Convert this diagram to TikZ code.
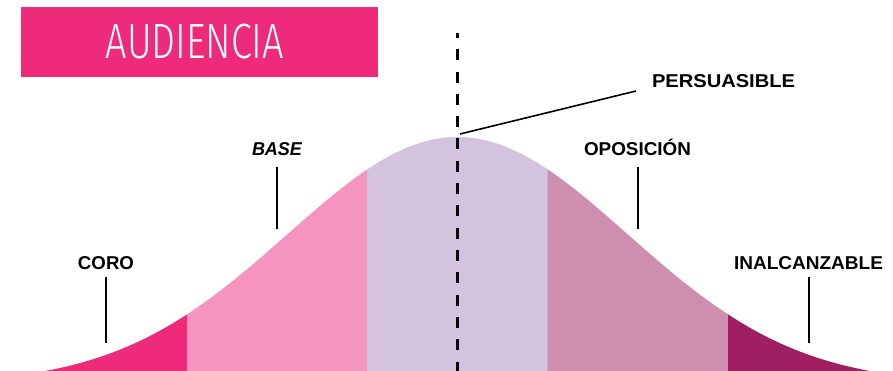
\documentclass[tikz,border=0pt]{standalone}
\usepackage{fontspec}
\setmainfont{Liberation Sans}
\newfontfamily\titlefont{Fira Sans Light}
\usepackage{graphicx}
\definecolor{coro}{HTML}{EE2A7B}
\definecolor{basec}{HTML}{F595BF}
\definecolor{pers}{HTML}{D3C3DF}
\definecolor{opos}{HTML}{CE8EAF}
\definecolor{inal}{HTML}{A01E62}
\newcommand\lblx[2]{\resizebox{#1}{\height}{\fontsize{18.6pt}{20pt}\selectfont\bfseries #2}}
\begin{document}
\begin{tikzpicture}[x=1pt,y=-1pt,
  declare function={bell(\t)=371-234*(exp(-((\t-457.5)/170)*((\t-457.5)/170)/2)-0.0527)/0.9473;},
  labeltext/.style={inner sep=0pt,anchor=base,text=black},
  leader/.style={draw=black,line width=1.6pt}]
\useasboundingbox (0,0) rectangle (893,371);
% bands
\fill[coro] plot[domain=45:187.5,samples=60] (\x,{bell(\x)}) -- (187.5,371) -- (45,371) -- cycle;
\fill[basec] plot[domain=187:367.5,samples=60] (\x,{bell(\x)}) -- (367.5,371) -- (187,371) -- cycle;
\fill[pers] plot[domain=367:548,samples=60] (\x,{bell(\x)}) -- (548,371) -- (367,371) -- cycle;
\fill[opos] plot[domain=547.5:728.5,samples=60] (\x,{bell(\x)}) -- (728.5,371) -- (547.5,371) -- cycle;
\fill[inal] plot[domain=728:870,samples=60] (\x,{bell(\x)}) -- (870,371) -- (728,371) -- cycle;
% title
\node[fill=coro,minimum width=357pt,minimum height=70pt,inner sep=0pt,anchor=north west] (titlebox) at (21,7) {};
\node[inner sep=0pt,anchor=base,text=white] (title) at (195,59)
  {\resizebox{178pt}{34.5pt}{\fontsize{49pt}{50pt}\titlefont AUDIENCIA}};
% center dashed line
\coordinate (dtop) at (457.5,33);
\coordinate (dbot) at (457.5,371);
\draw[line width=2.2pt,dash pattern=on 11pt off 11.3pt,dash phase=6] (dtop) -- (dbot);
% labels
\node[labeltext] (coroL) at (106,269) {\lblx{56pt}{CORO}};
\node[labeltext] (baseL) at (277,156) {\lblx{50pt}{\itshape BASE}};
\node[labeltext] (persL) at (723.5,88) {\lblx{143pt}{PERSUASIBLE}};
\node[labeltext] (oposL) at (637.5,156) {\lblx{107pt}{OPOSICIÓN}};
\node[labeltext] (inalL) at (808.5,269) {\lblx{149pt}{INALCANZABLE}};
% leader lines
\coordinate (c1) at (106,277); \coordinate (c2) at (106,343);
\coordinate (b1) at (277,167); \coordinate (b2) at (277,229);
\coordinate (p1) at (636,91);  \coordinate (p2) at (460,134);
\coordinate (o1) at (638,167); \coordinate (o2) at (638,229);
\coordinate (i1) at (809,277); \coordinate (i2) at (809,343);
\draw[leader] (c1) -- (c2);
\draw[leader] (b1) -- (b2);
\draw[leader] (p1) -- (p2);
\draw[leader] (o1) -- (o2);
\draw[leader] (i1) -- (i2);
\end{tikzpicture}
\end{document}
